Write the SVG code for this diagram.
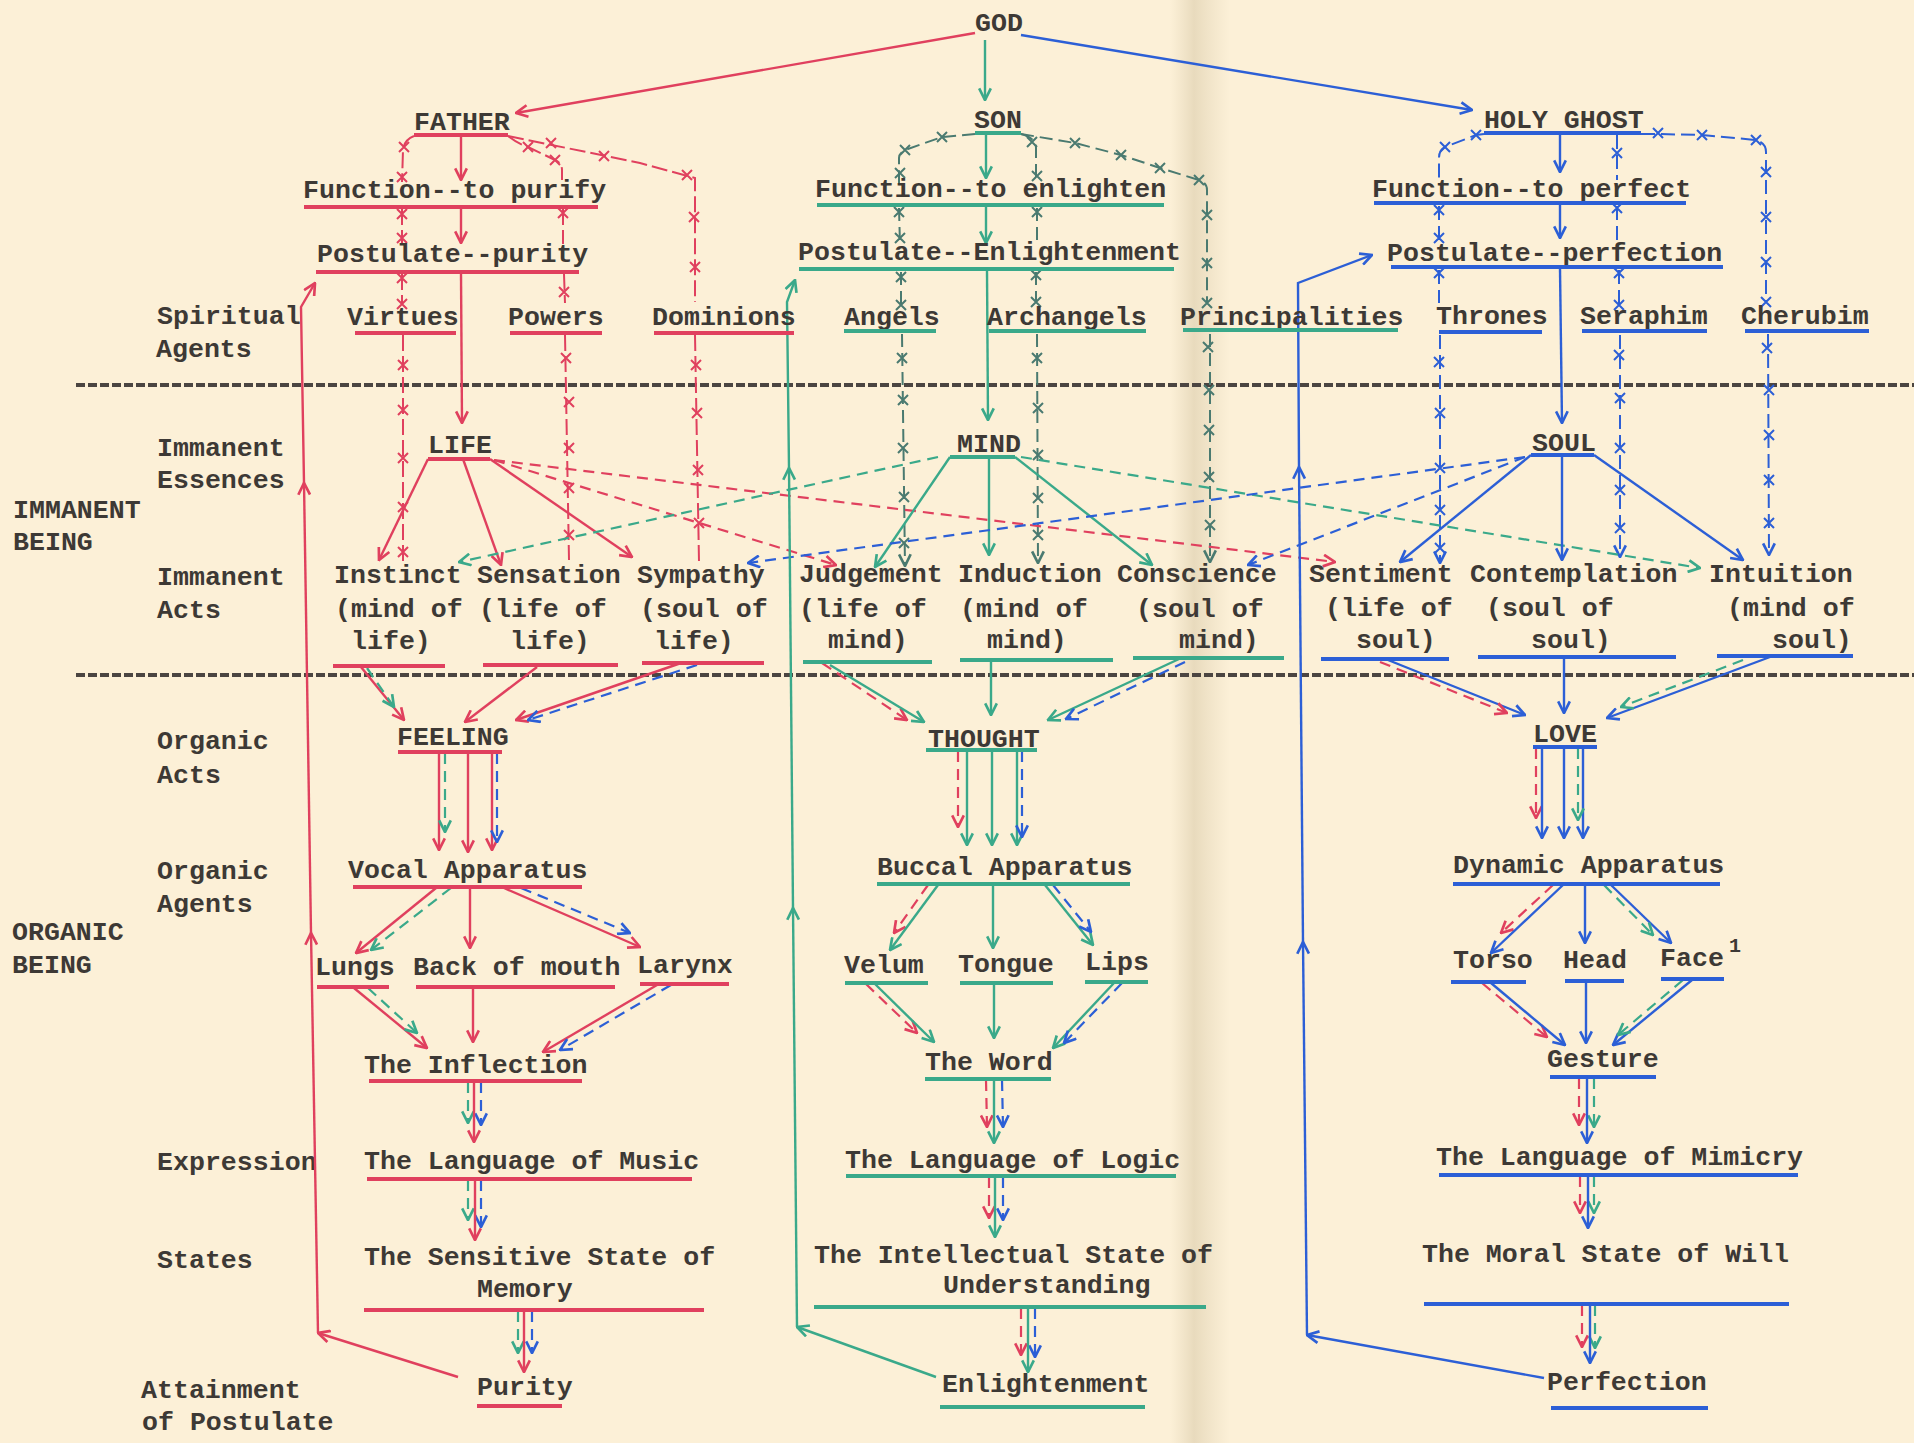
<svg xmlns="http://www.w3.org/2000/svg" width="1914" height="1443" viewBox="0 0 1914 1443">
<defs>
<linearGradient id="fold" x1="0" y1="0" x2="1" y2="0">
<stop offset="0" stop-color="#e9dcbf" stop-opacity="0"/>
<stop offset="0.4" stop-color="#e6d8ba" stop-opacity="0.9"/>
<stop offset="1" stop-color="#e9dcbf" stop-opacity="0"/>
</linearGradient>
<marker id="ar" viewBox="0 0 12 12" refX="11" refY="6" markerWidth="14" markerHeight="14" markerUnits="userSpaceOnUse" orient="auto"><path d="M1,1 L11,6 L1,11" fill="none" stroke="#e0405e" stroke-width="2.3"/></marker>
<marker id="ag" viewBox="0 0 12 12" refX="11" refY="6" markerWidth="14" markerHeight="14" markerUnits="userSpaceOnUse" orient="auto"><path d="M1,1 L11,6 L1,11" fill="none" stroke="#3aa98a" stroke-width="2.3"/></marker>
<marker id="ab" viewBox="0 0 12 12" refX="11" refY="6" markerWidth="14" markerHeight="14" markerUnits="userSpaceOnUse" orient="auto"><path d="M1,1 L11,6 L1,11" fill="none" stroke="#2c5fd6" stroke-width="2.3"/></marker>
<marker id="akg" viewBox="0 0 12 12" refX="11" refY="6" markerWidth="14" markerHeight="14" markerUnits="userSpaceOnUse" orient="auto"><path d="M1,1 L11,6 L1,11" fill="none" stroke="#4a7a70" stroke-width="2.3"/></marker>
<marker id="xr" viewBox="-6 -6 12 12" refX="0" refY="0" markerWidth="12" markerHeight="12" markerUnits="userSpaceOnUse"><path d="M-5,-5L5,5M-5,5L5,-5" stroke="#e0405e" stroke-width="2"/></marker>
<marker id="xg" viewBox="-6 -6 12 12" refX="0" refY="0" markerWidth="12" markerHeight="12" markerUnits="userSpaceOnUse"><path d="M-5,-5L5,5M-5,5L5,-5" stroke="#4a7a70" stroke-width="2"/></marker>
<marker id="xb" viewBox="-6 -6 12 12" refX="0" refY="0" markerWidth="12" markerHeight="12" markerUnits="userSpaceOnUse"><path d="M-5,-5L5,5M-5,5L5,-5" stroke="#2c5fd6" stroke-width="2"/></marker>
</defs>
<style>
.t{font-family:"Liberation Mono","DejaVu Sans Mono",monospace;font-size:26.6px;font-weight:bold;fill:#3d3935}
.ur{stroke:#e0405e;stroke-width:4}
.ug{stroke:#3aa98a;stroke-width:4}
.ub{stroke:#2c5fd6;stroke-width:4}
.sr{fill:none;stroke:#e0405e;stroke-width:2.4;marker-end:url(#ar)}
.sg{fill:none;stroke:#3aa98a;stroke-width:2.4;marker-end:url(#ag)}
.sb{fill:none;stroke:#2c5fd6;stroke-width:2.4;marker-end:url(#ab)}
.dr{fill:none;stroke:#e0405e;stroke-width:2.2;stroke-dasharray:11 7;marker-end:url(#ar)}
.dg{fill:none;stroke:#3aa98a;stroke-width:2.2;stroke-dasharray:11 7;marker-end:url(#ag)}
.db{fill:none;stroke:#2c5fd6;stroke-width:2.2;stroke-dasharray:11 7;marker-end:url(#ab)}
.xlr{fill:none;stroke:#e0405e;stroke-width:2;stroke-dasharray:16 5}
.xlg{fill:none;stroke:#4a7a70;stroke-width:2;stroke-dasharray:13 6}
.xlb{fill:none;stroke:#2c5fd6;stroke-width:2;stroke-dasharray:14 6}
.xmr{fill:none;stroke:none;marker-start:url(#xr);marker-mid:url(#xr);marker-end:url(#xr)}
.xmg{fill:none;stroke:none;marker-start:url(#xg);marker-mid:url(#xg);marker-end:url(#xg)}
.xmb{fill:none;stroke:none;marker-start:url(#xb);marker-mid:url(#xb);marker-end:url(#xb)}
.div{stroke:#4b4541;stroke-width:4;stroke-dasharray:9 3}
</style>
<rect x="0" y="0" width="1914" height="1443" fill="#fcf0d7"/>
<rect x="1170" y="0" width="60" height="1443" fill="url(#fold)"/>

<g id="dividers">
<line class="div" x1="76" y1="385" x2="1914" y2="385"/>
<line class="div" x1="76" y1="675" x2="1914" y2="675"/>
</g>

<g id="row-labels" class="t">
<text x="157" y="324">Spiritual</text><text x="156" y="357">Agents</text>
<text x="157" y="456">Immanent</text><text x="157" y="488">Essences</text>
<text x="13" y="518">IMMANENT</text><text x="13" y="550">BEING</text>
<text x="157" y="585">Immanent</text><text x="157" y="618">Acts</text>
<text x="157" y="749">Organic</text><text x="157" y="783">Acts</text>
<text x="157" y="879">Organic</text><text x="157" y="912">Agents</text>
<text x="12" y="940">ORGANIC</text><text x="12" y="973">BEING</text>
<text x="157" y="1170">Expression</text>
<text x="157" y="1268">States</text>
<text x="141" y="1398">Attainment</text><text x="142" y="1430">of Postulate</text>
</g>

<g id="connectors">
<path class="sr" d="M975,33 L516,113"/>
<path class="sg" d="M985,40 L985,100"/>
<path class="sb" d="M1021,35 L1472,110"/>
<path class="sr" d="M461,137 L461,180"/>
<path class="sr" d="M461,209 L461,243"/>
<path class="sr" d="M461,274 L462,423"/>
<path class="xlr" d="M414,136 Q404,140 403,150 L402,182 M402,209 L402,244 M402,274 L402,305 M403,335 L403,566"/>
<path class="xlr" d="M508,136 Q520,145 528,147 L555,160 Q562,163 562,170 L562,180 M563,209 L563,244 M564,274 L565,303 M565,335 L569,560"/>
<path class="xlr" d="M508,136 L640,163 L695,178 L695,302 M695,335 L699,562"/>
<polyline class="xmr" points="404,147 402,177 402,214 402,238 402,278 402,304 403,365 403,410 403,458 403,507 403,552"/>
<polyline class="xmr" points="528,147 555,160 563,213 564,292 566,358 569,402 569,448 569,488 569,535"/>
<polyline class="xmr" points="551,143 604,156 687,175 694,217 695,267 696,365 697,413 698,470 699,523"/>
<path class="sg" d="M986,135 L986,178"/>
<path class="sg" d="M986,207 L986,243"/>
<path class="sg" d="M987,271 L988,420"/>
<path class="xlg" d="M975,134 L942,137 L905,150 Q899,153 899,158 L899,183 M899,208 L900,245 M901,272 L901,305"/>
<path class="xlg" d="M902,334 L905,566" style="marker-end:url(#akg)"/>
<path class="xlg" d="M1021,134 Q1036,138 1036,148 L1036,183 M1037,208 L1037,245 M1036,272 L1036,302"/>
<path class="xlg" d="M1037,334 L1038,563" style="marker-end:url(#akg)"/>
<path class="xlg" d="M1021,134 L1075,143 L1121,155 L1160,168 L1199,180 Q1207,183 1207,190 L1207,302"/>
<path class="xlg" d="M1210,334 L1210,562" style="marker-end:url(#akg)"/>
<polyline class="xmg" points="942,137 905,150 900,173 899,212 900,238 901,277 901,305 902,358 903,400 903,448 904,497 904,543"/>
<polyline class="xmg" points="1032,142 1037,176 1037,212 1036,275 1036,302 1037,358 1038,408 1038,455 1038,498 1038,535"/>
<polyline class="xmg" points="1075,143 1121,155 1160,168 1199,180 1207,215 1207,263 1207,303 1208,347 1209,390 1209,430 1209,477 1210,525"/>
<path class="sb" d="M1560,135 L1560,172"/>
<path class="sb" d="M1560,205 L1560,238"/>
<path class="sb" d="M1560,269 L1562,423"/>
<path class="xlb" d="M1484,134 L1476,135 L1445,147 Q1439,150 1439,158 L1439,181 M1439,206 L1439,243 M1439,270 L1439,303"/>
<path class="xlb" d="M1440,335 L1440,563" style="marker-end:url(#ab)"/>
<path class="xlb" d="M1617,135 L1617,180 M1617,206 L1617,243 M1619,270 L1619,304"/>
<path class="xlb" d="M1620,335 L1620,557" style="marker-end:url(#ab)"/>
<path class="xlb" d="M1641,134 L1658,134 L1702,135 L1756,140 Q1766,143 1766,152 L1766,303"/>
<path class="xlb" d="M1768,334 L1769,555" style="marker-end:url(#ab)"/>
<polyline class="xmb" points="1476,135 1445,147 1439,210 1439,238 1439,273 1439,362 1440,413 1440,468 1440,510 1440,548"/>
<polyline class="xmb" points="1617,153 1617,208 1619,273 1619,305 1619,355 1620,398 1620,448 1620,490 1620,528"/>
<polyline class="xmb" points="1658,133 1702,135 1756,140 1766,172 1766,217 1766,262 1766,302 1767,348 1769,390 1769,435 1769,480 1769,523"/>
<path class="sr" d="M428,459 L379,560"/>
<path class="sr" d="M463,459 L501,565"/>
<path class="sr" d="M490,459 L632,557"/>
<path class="dr" d="M494,460 L836,565"/>
<path class="dr" d="M494,460 L1335,562"/>
<path class="sg" d="M950,457 L875,567"/>
<path class="sg" d="M989,457 L989,555"/>
<path class="sg" d="M1015,457 L1152,565"/>
<path class="dg" d="M938,457 L459,562"/>
<path class="dg" d="M1021,457 L1700,568"/>
<path class="sb" d="M1531,455 L1400,562"/>
<path class="sb" d="M1562,455 L1562,560"/>
<path class="sb" d="M1594,455 L1743,560"/>
<path class="db" d="M1525,457 L748,563"/>
<path class="db" d="M1525,457 L1248,565"/>
<path class="sr" d="M458,1377 L318,1333"/>
<path class="sr" d="M318,1333 L311,933"/>
<path class="sr" d="M311,933 L304,483"/>
<path class="sr" d="M304,483 L301,307 L315,283"/>
<path class="sg" d="M936,1377 L797,1327"/>
<path class="sg" d="M797,1327 L793,908"/>
<path class="sg" d="M793,908 L789,468"/>
<path class="sg" d="M789,468 L787,302 L795,280"/>
<path class="sb" d="M1544,1378 L1307,1335"/>
<path class="sb" d="M1307,1335 L1303,942"/>
<path class="sb" d="M1303,942 L1299,467"/>
<path class="sb" d="M1299,467 L1298,283 L1372,255"/>
<path class="sr" d="M361,667 L404,720"/>
<path class="dg" d="M367,668 L394,707"/>
<path class="sr" d="M537,667 L465,722"/>
<path class="sr" d="M681,663 L516,720"/>
<path class="db" d="M697,665 L528,720"/>
<path class="sr" d="M439,753 L439,850"/>
<path class="sr" d="M468,753 L468,852"/>
<path class="sr" d="M492,753 L492,850"/>
<path class="dg" d="M445,753 L445,832"/>
<path class="db" d="M497,753 L497,842"/>
<path class="sr" d="M436,888 L356,953"/>
<path class="dg" d="M451,888 L371,950"/>
<path class="sr" d="M470,888 L470,948"/>
<path class="sr" d="M504,888 L640,947"/>
<path class="db" d="M521,888 L630,933"/>
<path class="sr" d="M354,988 L427,1048"/>
<path class="dg" d="M368,988 L417,1033"/>
<path class="sr" d="M473,988 L473,1042"/>
<path class="sr" d="M657,985 L543,1052"/>
<path class="db" d="M671,985 L560,1050"/>
<path class="dg" d="M468,1082 L468,1123"/>
<path class="db" d="M481,1082 L481,1125"/>
<path class="sr" d="M474,1082 L474,1142"/>
<path class="dg" d="M468,1180 L468,1220"/>
<path class="db" d="M481,1180 L481,1227"/>
<path class="sr" d="M475,1180 L475,1240"/>
<path class="dg" d="M518,1311 L518,1353"/>
<path class="db" d="M532,1311 L532,1353"/>
<path class="sr" d="M524,1311 L524,1372"/>
<path class="dr" d="M822,663 L907,720"/>
<path class="sg" d="M830,665 L924,722"/>
<path class="sg" d="M991,661 L991,715"/>
<path class="sg" d="M1179,659 L1048,720"/>
<path class="db" d="M1185,662 L1066,719"/>
<path class="dr" d="M958,751 L958,827"/>
<path class="sg" d="M967,751 L967,845"/>
<path class="sg" d="M992,751 L992,845"/>
<path class="sg" d="M1017,751 L1017,845"/>
<path class="db" d="M1022,751 L1022,837"/>
<path class="dr" d="M928,885 L894,933"/>
<path class="sg" d="M938,885 L890,950"/>
<path class="sg" d="M993,885 L993,948"/>
<path class="sg" d="M1045,885 L1093,945"/>
<path class="db" d="M1053,885 L1091,932"/>
<path class="dr" d="M866,984 L917,1033"/>
<path class="sg" d="M875,984 L934,1042"/>
<path class="sg" d="M994,984 L994,1038"/>
<path class="sg" d="M1114,983 L1053,1048"/>
<path class="db" d="M1122,983 L1064,1043"/>
<path class="dr" d="M986,1080 L987,1127"/>
<path class="db" d="M1002,1080 L1003,1127"/>
<path class="sg" d="M994,1080 L994,1143"/>
<path class="dr" d="M989,1177 L989,1218"/>
<path class="db" d="M1003,1177 L1003,1220"/>
<path class="sg" d="M995,1177 L995,1237"/>
<path class="dr" d="M1021,1308 L1021,1355"/>
<path class="db" d="M1035,1308 L1035,1357"/>
<path class="sg" d="M1028,1308 L1028,1372"/>
<path class="sb" d="M1388,660 L1525,715"/>
<path class="dr" d="M1380,662 L1507,713"/>
<path class="sb" d="M1564,658 L1564,713"/>
<path class="sb" d="M1770,657 L1607,718"/>
<path class="dg" d="M1743,660 L1621,707"/>
<path class="dr" d="M1536,748 L1536,818"/>
<path class="sb" d="M1542,748 L1542,838"/>
<path class="sb" d="M1564,748 L1564,838"/>
<path class="sb" d="M1583,748 L1583,838"/>
<path class="dg" d="M1578,748 L1578,820"/>
<path class="dr" d="M1553,885 L1501,933"/>
<path class="sb" d="M1563,885 L1491,953"/>
<path class="sb" d="M1585,885 L1585,943"/>
<path class="sb" d="M1611,885 L1671,943"/>
<path class="dg" d="M1604,885 L1653,935"/>
<path class="dr" d="M1482,983 L1547,1037"/>
<path class="sb" d="M1491,983 L1565,1045"/>
<path class="sb" d="M1586,982 L1586,1043"/>
<path class="sb" d="M1692,980 L1613,1045"/>
<path class="dg" d="M1683,980 L1618,1035"/>
<path class="dr" d="M1579,1078 L1579,1125"/>
<path class="dg" d="M1594,1078 L1594,1127"/>
<path class="sb" d="M1587,1078 L1587,1143"/>
<path class="dr" d="M1580,1176 L1580,1213"/>
<path class="dg" d="M1594,1176 L1594,1213"/>
<path class="sb" d="M1588,1176 L1588,1228"/>
<path class="dr" d="M1582,1305 L1582,1347"/>
<path class="dg" d="M1595,1305 L1595,1348"/>
<path class="sb" d="M1590,1305 L1590,1363"/>
</g>

<g id="god" class="t"><text x="975" y="31">GOD</text></g>
<g id="father"><text class="t" x="414" y="130">FATHER</text><line class="ur" x1="414" y1="135" x2="508" y2="135"/></g>
<g id="son"><text class="t" x="974" y="128">SON</text><line class="ug" x1="975" y1="133" x2="1021" y2="133"/></g>
<g id="holy-ghost"><text class="t" x="1484" y="128">HOLY GHOST</text><line class="ub" x1="1484" y1="133" x2="1641" y2="133"/></g>

<g id="function-purify"><text class="t" x="303" y="198">Function--to purify</text><line class="ur" x1="304" y1="207" x2="598" y2="207"/></g>
<g id="function-enlighten"><text class="t" x="815" y="197">Function--to enlighten</text><line class="ug" x1="817" y1="205" x2="1164" y2="205"/></g>
<g id="function-perfect"><text class="t" x="1372" y="197">Function--to perfect</text><line class="ub" x1="1374" y1="203" x2="1686" y2="203"/></g>

<g id="postulate-purity"><text class="t" x="317" y="262">Postulate--purity</text><line class="ur" x1="316" y1="272" x2="579" y2="272"/></g>
<g id="postulate-enlightenment"><text class="t" x="798" y="260">Postulate--Enlightenment</text><line class="ug" x1="799" y1="269" x2="1174" y2="269"/></g>
<g id="postulate-perfection"><text class="t" x="1387" y="261">Postulate--perfection</text><line class="ub" x1="1391" y1="267" x2="1723" y2="267"/></g>

<g id="virtues"><text class="t" x="347" y="325">Virtues</text><line class="ur" x1="355" y1="333" x2="456" y2="333"/></g>
<g id="powers"><text class="t" x="508" y="325">Powers</text><line class="ur" x1="510" y1="333" x2="602" y2="333"/></g>
<g id="dominions"><text class="t" x="652" y="325">Dominions</text><line class="ur" x1="654" y1="333" x2="794" y2="333"/></g>
<g id="angels"><text class="t" x="844" y="325">Angels</text><line class="ug" x1="844" y1="331" x2="936" y2="331"/></g>
<g id="archangels"><text class="t" x="987" y="325">Archangels</text><line class="ug" x1="989" y1="331" x2="1146" y2="331"/></g>
<g id="principalities"><text class="t" x="1180" y="325">Principalities</text><line class="ug" x1="1183" y1="330" x2="1398" y2="330"/></g>
<g id="thrones"><text class="t" x="1436" y="324">Thrones</text><line class="ub" x1="1439" y1="332" x2="1542" y2="332"/></g>
<g id="seraphim"><text class="t" x="1580" y="324">Seraphim</text><line class="ub" x1="1582" y1="331" x2="1707" y2="331"/></g>
<g id="cherubim"><text class="t" x="1741" y="324">Cherubim</text><line class="ub" x1="1745" y1="331" x2="1869" y2="331"/></g>

<g id="life"><text class="t" x="428" y="453">LIFE</text><line class="ur" x1="428" y1="459" x2="490" y2="459"/></g>
<g id="mind"><text class="t" x="957" y="452">MIND</text><line class="ug" x1="950" y1="457" x2="1015" y2="457"/></g>
<g id="soul"><text class="t" x="1532" y="451">SOUL</text><line class="ub" x1="1531" y1="455" x2="1594" y2="455"/></g>

<g id="instinct" class="t"><text x="334" y="583">Instinct</text><text x="335" y="617">(mind of</text><text x="351" y="649">life)</text><line class="ur" x1="333" y1="666" x2="445" y2="666"/></g>
<g id="sensation" class="t"><text x="477" y="583">Sensation</text><text x="479" y="617">(life of</text><text x="510" y="649">life)</text><line class="ur" x1="483" y1="665" x2="618" y2="665"/></g>
<g id="sympathy" class="t"><text x="637" y="583">Sympathy</text><text x="640" y="617">(soul of</text><text x="654" y="649">life)</text><line class="ur" x1="642" y1="663" x2="764" y2="663"/></g>
<g id="judgement" class="t"><text x="799" y="582">Judgement</text><text x="799" y="617">(life of</text><text x="828" y="648">mind)</text><line class="ug" x1="803" y1="662" x2="932" y2="662"/></g>
<g id="induction" class="t"><text x="958" y="582">Induction</text><text x="960" y="617">(mind of</text><text x="987" y="648">mind)</text><line class="ug" x1="960" y1="660" x2="1113" y2="660"/></g>
<g id="conscience" class="t"><text x="1117" y="582">Conscience</text><text x="1136" y="617">(soul of</text><text x="1179" y="648">mind)</text><line class="ug" x1="1133" y1="658" x2="1284" y2="658"/></g>
<g id="sentiment" class="t"><text x="1309" y="582">Sentiment</text><text x="1325" y="616">(life of</text><text x="1356" y="648">soul)</text><line class="ub" x1="1321" y1="659" x2="1449" y2="659"/></g>
<g id="contemplation" class="t"><text x="1470" y="582">Contemplation</text><text x="1486" y="616">(soul of</text><text x="1531" y="648">soul)</text><line class="ub" x1="1478" y1="657" x2="1676" y2="657"/></g>
<g id="intuition" class="t"><text x="1709" y="582">Intuition</text><text x="1727" y="616">(mind of</text><text x="1772" y="648">soul)</text><line class="ub" x1="1717" y1="656" x2="1853" y2="656"/></g>

<g id="feeling"><text class="t" x="397" y="745">FEELING</text><line class="ur" x1="398" y1="752" x2="502" y2="752"/></g>
<g id="thought"><text class="t" x="928" y="747">THOUGHT</text><line class="ug" x1="926" y1="750" x2="1037" y2="750"/></g>
<g id="love"><text class="t" x="1533" y="742">LOVE</text><line class="ub" x1="1533" y1="747" x2="1597" y2="747"/></g>

<g id="vocal-apparatus"><text class="t" x="348" y="878">Vocal Apparatus</text><line class="ur" x1="353" y1="887" x2="582" y2="887"/></g>
<g id="buccal-apparatus"><text class="t" x="877" y="875">Buccal Apparatus</text><line class="ug" x1="877" y1="884" x2="1130" y2="884"/></g>
<g id="dynamic-apparatus"><text class="t" x="1453" y="873">Dynamic Apparatus</text><line class="ub" x1="1453" y1="884" x2="1720" y2="884"/></g>

<g id="lungs"><text class="t" x="315" y="975">Lungs</text><line class="ur" x1="317" y1="987" x2="389" y2="987"/></g>
<g id="back-of-mouth"><text class="t" x="413" y="975">Back of mouth</text><line class="ur" x1="416" y1="987" x2="615" y2="987"/></g>
<g id="larynx"><text class="t" x="637" y="973">Larynx</text><line class="ur" x1="640" y1="984" x2="729" y2="984"/></g>
<g id="velum"><text class="t" x="844" y="973">Velum</text><line class="ug" x1="845" y1="983" x2="928" y2="983"/></g>
<g id="tongue"><text class="t" x="958" y="972">Tongue</text><line class="ug" x1="960" y1="983" x2="1053" y2="983"/></g>
<g id="lips"><text class="t" x="1085" y="970">Lips</text><line class="ug" x1="1085" y1="982" x2="1148" y2="982"/></g>
<g id="torso"><text class="t" x="1453" y="968">Torso</text><line class="ub" x1="1451" y1="982" x2="1526" y2="982"/></g>
<g id="head"><text class="t" x="1563" y="968">Head</text><line class="ub" x1="1565" y1="981" x2="1624" y2="981"/></g>
<g id="face"><text class="t" x="1660" y="966">Face</text><text class="t" x="1729" y="952" style="font-size:20px">1</text><line class="ub" x1="1661" y1="979" x2="1724" y2="979"/></g>

<g id="inflection"><text class="t" x="364" y="1073">The Inflection</text><line class="ur" x1="369" y1="1081" x2="582" y2="1081"/></g>
<g id="word"><text class="t" x="925" y="1070">The Word</text><line class="ug" x1="925" y1="1079" x2="1051" y2="1079"/></g>
<g id="gesture"><text class="t" x="1547" y="1067">Gesture</text><line class="ub" x1="1550" y1="1077" x2="1656" y2="1077"/></g>

<g id="language-music"><text class="t" x="364" y="1169">The Language of Music</text><line class="ur" x1="367" y1="1179" x2="692" y2="1179"/></g>
<g id="language-logic"><text class="t" x="845" y="1168">The Language of Logic</text><line class="ug" x1="846" y1="1176" x2="1176" y2="1176"/></g>
<g id="language-mimicry"><text class="t" x="1436" y="1165">The Language of Mimicry</text><line class="ub" x1="1439" y1="1175" x2="1798" y2="1175"/></g>

<g id="sensitive-state"><text class="t" x="364" y="1265">The Sensitive State of</text><text class="t" x="477" y="1297">Memory</text><line class="ur" x1="364" y1="1310" x2="704" y2="1310"/></g>
<g id="intellectual-state"><text class="t" x="814" y="1263">The Intellectual State of</text><text class="t" x="943" y="1293">Understanding</text><line class="ug" x1="814" y1="1307" x2="1206" y2="1307"/></g>
<g id="moral-state"><text class="t" x="1422" y="1262">The Moral State of Will</text><line class="ub" x1="1424" y1="1304" x2="1789" y2="1304"/></g>

<g id="purity"><text class="t" x="477" y="1395">Purity</text><line class="ur" x1="477" y1="1406" x2="562" y2="1406"/></g>
<g id="enlightenment"><text class="t" x="942" y="1392">Enlightenment</text><line class="ug" x1="940" y1="1407" x2="1145" y2="1407"/></g>
<g id="perfection"><text class="t" x="1547" y="1390">Perfection</text><line class="ub" x1="1551" y1="1408" x2="1708" y2="1408"/></g>
</svg>
